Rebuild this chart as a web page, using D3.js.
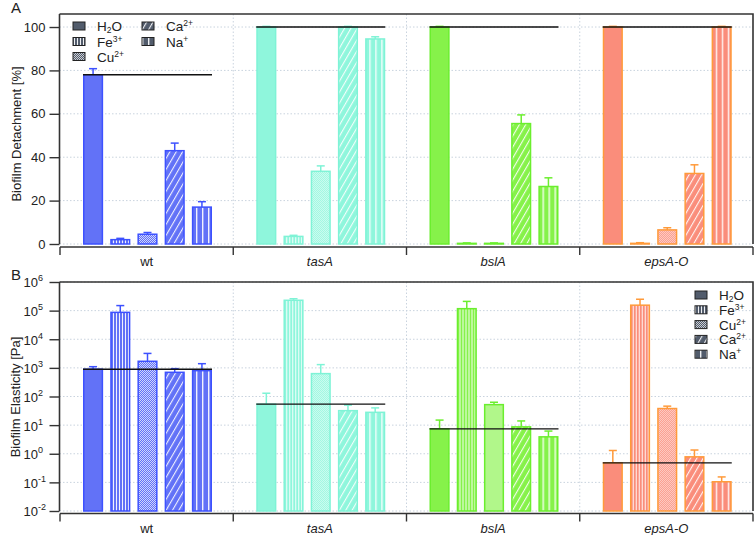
<!DOCTYPE html>
<html><head><meta charset="utf-8">
<script src="https://cdn.jsdelivr.net/npm/d3@7"></script>
<style>
body{margin:0;background:#fff;}
svg{display:block;font-family:"Liberation Sans",Arial,sans-serif;}
</style></head>
<body><svg id="c" width="756" height="535"></svg>
<script>
// ---------- data ----------
const groups = ["wt", "tasA", "bslA", "epsA-O"];
const ions = ["H2O", "Fe", "Cu", "Ca", "Na"];
const groupFill = ["#6272f7", "#8ff6dc", "#86f24a", "#fa8d7b"];
const groupStroke = ["#3d51ff", "#7ff3d6", "#6bee2e", "#ff9a3a"];

// Panel A: biofilm detachment [%]
const detachWt   = [78, 2, 4.5, 43, 17];
const detachTasA = [100, 3.5, 33.5, 100, 94.5];
const detachBslA = [100, 0.3, 0.3, 55.5, 26.5];
const detachEpsA = [100, 0.3, 6.5, 32.5, 100];
const detachErrWt   = [2.8, 0.6, 0.8, 3.5, 2.5];
const detachErrTasA = [0.3, 0.5, 2.5, 0.3, 1.0];
const detachErrBslA = [0.3, 0.2, 0.2, 4.0, 4.0];
const detachErrEpsA = [0.3, 0.3, 1.0, 4.0, 0.3];

// Panel B: biofilm elasticity [Pa] (mean, upper error bar end)
const elastWt   = [900, 87000, 1700, 700, 800];
const elastTasA = [54, 230000, 630, 32, 28];
const elastBslA = [7.4, 117000, 52, 8.7, 3.9];
const elastEpsA = [0.48, 155000, 38, 0.78, 0.105];
const elastTopWt   = [1100, 150000, 3200, 940, 1400];
const elastTopTasA = [130, 260000, 1300, 50, 40];
const elastTopBslA = [15, 210000, 63, 14, 6.2];
const elastTopEpsA = [1.3, 250000, 46, 1.35, 0.155];

const yTicksA = [0, 20, 40, 60, 80, 100];
const yExpB = [-2, -1, 0, 1, 2, 3, 4, 5, 6];

const detach = [detachWt, detachTasA, detachBslA, detachEpsA];
const detachErr = [detachErrWt, detachErrTasA, detachErrBslA, detachErrEpsA];
const elast = [elastWt, elastTasA, elastBslA, elastEpsA];
const elastTop = [elastTopWt, elastTopTasA, elastTopBslA, elastTopEpsA];

// ---------- setup ----------
const svg = d3.select("#c");
const defs = svg.append("defs");
const L = 59.5, R = 753;
const x0 = d3.scaleBand().domain(groups).range([60, R]).padding(0);
const x1 = d3.scaleBand().domain(ions).range([23, 152]).paddingInner(0.26).paddingOuter(0);

function makePatterns(key, fill) {
  let p = defs.append("pattern").attr("id", "p-Fe-" + key).attr("patternUnits", "userSpaceOnUse")
    .attr("width", 3).attr("height", 4);
  p.append("rect").attr("width", 3).attr("height", 4).attr("fill", fill);
  p.append("rect").attr("x", 2).attr("width", 1).attr("height", 4).attr("fill", "#fff").attr("opacity", 0.9);
  p = defs.append("pattern").attr("id", "p-Cu-" + key).attr("patternUnits", "userSpaceOnUse")
    .attr("width", 2).attr("height", 2);
  p.append("rect").attr("width", 2).attr("height", 2).attr("fill", fill);
  p.append("rect").attr("width", 1).attr("height", 1).attr("fill", "#fff").attr("opacity", 0.7);
  p.append("rect").attr("x", 1).attr("y", 1).attr("width", 1).attr("height", 1).attr("fill", "#fff").attr("opacity", 0.7);
  p = defs.append("pattern").attr("id", "p-Ca-" + key).attr("patternUnits", "userSpaceOnUse")
    .attr("width", 5.5).attr("height", 10).attr("patternTransform", "rotate(30)");
  p.append("rect").attr("width", 5.5).attr("height", 10).attr("fill", fill);
  p.append("rect").attr("x", 0).attr("width", 1.1).attr("height", 10).attr("fill", "#fff").attr("opacity", 0.9);
  p = defs.append("pattern").attr("id", "p-Na-" + key).attr("patternUnits", "userSpaceOnUse")
    .attr("width", 6).attr("height", 4);
  p.append("rect").attr("width", 6).attr("height", 4).attr("fill", fill);
  p.append("rect").attr("x", 4).attr("width", 1.4).attr("height", 4).attr("fill", "#fff").attr("opacity", 0.9);
}
groups.forEach((g, i) => makePatterns(i, groupFill[i]));
makePatterns("leg", "#525c6c");

function fillFor(key, ion, base) {
  return ion === "H2O" ? base : `url(#p-${ion}-${key})`;
}

const gridColor = "#c9d3de";
const axisColor = "#333";

function drawPanel(opts) {
  const { y, top, bottom, axisY, values, upper, isLog } = opts;
  const g = svg.append("g");
  const tickVals = isLog ? yExpB.map(e => Math.pow(10, e)) : yTicksA;
  g.selectAll(".hg").data(tickVals).join("line")
    .attr("x1", L).attr("x2", R).attr("y1", d => y(d)).attr("y2", d => y(d))
    .attr("stroke", gridColor).attr("stroke-width", 1).attr("stroke-dasharray", "1.5,2");
  g.selectAll(".vg").data(groups.slice(1)).join("line")
    .attr("x1", d => x0(d)).attr("x2", d => x0(d)).attr("y1", top).attr("y2", bottom)
    .attr("stroke", gridColor).attr("stroke-width", 1).attr("stroke-dasharray", "1.5,2");

  groups.forEach((grp, gi) => {
    const gg = g.append("g").attr("transform", `translate(${x0(grp)},0)`);
    ions.forEach((ion, ii) => {
      const v = values[gi][ii];
      const yt = y(v), yb = y.range()[0];
      gg.append("rect").attr("x", x1(ion) + 0.75).attr("width", x1.bandwidth() - 1.5)
        .attr("y", yt).attr("height", Math.max(0.5, yb - yt))
        .attr("fill", fillFor(gi, ion, groupFill[gi]))
        .attr("stroke", groupStroke[gi]).attr("stroke-width", 1.5);
      const ye = y(upper[gi][ii]);
      const cx = x1(ion) + x1.bandwidth() / 2;
      gg.append("line").attr("x1", cx).attr("x2", cx).attr("y1", yt).attr("y2", ye)
        .attr("stroke", groupStroke[gi]).attr("stroke-width", 1.5);
      gg.append("line").attr("x1", cx - 4).attr("x2", cx + 4).attr("y1", ye).attr("y2", ye)
        .attr("stroke", groupStroke[gi]).attr("stroke-width", 1.5);
    });
    const yr = y(values[gi][0]);
    gg.append("line").attr("x1", x1(ions[0])).attr("x2", x1(ions[4]) + x1.bandwidth())
      .attr("y1", yr).attr("y2", yr).attr("stroke", "#111").attr("stroke-width", 1.4);
  });

  g.append("path").attr("d", `M${L},${top}H${R}V${y.range()[0]}`)
    .attr("fill", "none").attr("stroke", axisColor).attr("stroke-width", 1.6);

  const ax = isLog
    ? d3.axisLeft(y).tickValues(tickVals).tickFormat("").tickSize(10).tickSizeOuter(0)
    : d3.axisLeft(y).tickValues(tickVals).tickFormat(d3.format("d")).tickSize(10).tickSizeOuter(0).tickPadding(4);
  const ag = g.append("g").attr("transform", `translate(${L},0)`).call(ax);
  ag.select(".domain").attr("stroke", axisColor).attr("stroke-width", 1.6)
    .attr("d", `M0,${top}V${y.range()[0]}`);
  ag.selectAll(".tick line").attr("stroke", axisColor).attr("stroke-width", 1.4);
  ag.selectAll(".tick text").attr("font-size", 13).attr("fill", "#222")
    .attr("font-family", "Liberation Sans, Arial, sans-serif");
  if (isLog) {
    ag.selectAll(".tick").each(function (d, i) {
      const t = d3.select(this).append("text").attr("x", -36).attr("dy", "0.38em")
        .attr("font-size", 13).attr("fill", "#222").attr("text-anchor", "start")
        .attr("font-family", "Liberation Sans, Arial, sans-serif");
      t.append("tspan").text("10");
      t.append("tspan").attr("dy", -6).attr("font-size", 9).text(yExpB[i]);
    });
  }

  const bx = g.append("g").attr("transform", `translate(0,${axisY})`);
  bx.append("line").attr("x1", 60).attr("x2", R).attr("stroke", axisColor).attr("stroke-width", 1.6);
  const bounds = groups.map(d => x0(d)).concat([x0(groups[3]) + x0.bandwidth()]);
  bx.selectAll(".bt").data(bounds).join("line")
    .attr("x1", d => d).attr("x2", d => d).attr("y1", 0).attr("y2", 8)
    .attr("stroke", axisColor).attr("stroke-width", 1.4);
  bx.selectAll(".bl").data(groups).join("text")
    .attr("x", d => x0(d) + x0.bandwidth() / 2).attr("y", 19)
    .attr("text-anchor", "middle").attr("font-size", 13).attr("fill", "#222")
    .attr("font-style", (d, i) => i === 0 ? "normal" : "italic")
    .text(d => d);
  return g;
}

const yA = d3.scaleLinear().domain([0, 106]).range([244, 14]);
drawPanel({ y: yA, top: 14, bottom: 244, axisY: 247,
  values: detach, upper: detach.map((a, gi) => a.map((v, ii) => v + detachErr[gi][ii])), isLog: false });

const yB = d3.scaleLog().domain([1e-2, 1e6]).range([511, 282]);
drawPanel({ y: yB, top: 282, bottom: 511, axisY: 513.5, values: elast, upper: elastTop, isLog: true });

svg.append("text").attr("transform", "translate(21,134) rotate(-90)").attr("text-anchor", "middle")
  .attr("font-size", 13).attr("fill", "#222").text("Biofilm Detachment [%]");
svg.append("text").attr("transform", "translate(20,397) rotate(-90)").attr("text-anchor", "middle")
  .attr("font-size", 13).attr("fill", "#222").text("Biofilm Elasticity [Pa]");
svg.append("text").attr("x", 11).attr("y", 13).attr("font-size", 15).attr("fill", "#222").text("A");
svg.append("text").attr("x", 11).attr("y", 280).attr("font-size", 15).attr("fill", "#222").text("B");

function legendLabel(t, ion) {
  if (ion === "H2O") { t.append("tspan").text("H"); t.append("tspan").attr("font-size", 8.5).attr("dy", 2).text("2"); t.append("tspan").attr("dy", -2).text("O"); }
  else {
    const base = { Fe: "Fe", Cu: "Cu", Ca: "Ca", Na: "Na" }[ion];
    const sup = { Fe: "3+", Cu: "2+", Ca: "2+", Na: "+" }[ion];
    t.append("tspan").text(base); t.append("tspan").attr("font-size", 8.5).attr("dy", -5).text(sup);
  }
}
function legendItem(x, ycenter, ion) {
  svg.append("rect").attr("x", x).attr("y", ycenter - 4).attr("width", 12).attr("height", 8)
    .attr("fill", fillFor("leg", ion, "#525c6c")).attr("stroke", "#222").attr("stroke-width", 1);
  const t = svg.append("text").attr("x", x + 24).attr("y", ycenter + 5).attr("font-size", 13.5).attr("fill", "#222");
  legendLabel(t, ion);
}
const legA = [[73, 26], [73, 41.5], [73, 56.5], [142, 26], [142, 41.5]];
ions.forEach((ion, i) => legendItem(legA[i][0], legA[i][1], ion));
ions.forEach((ion, i) => legendItem(695, 295 + i * 14.8, ion));
</script></body></html>
